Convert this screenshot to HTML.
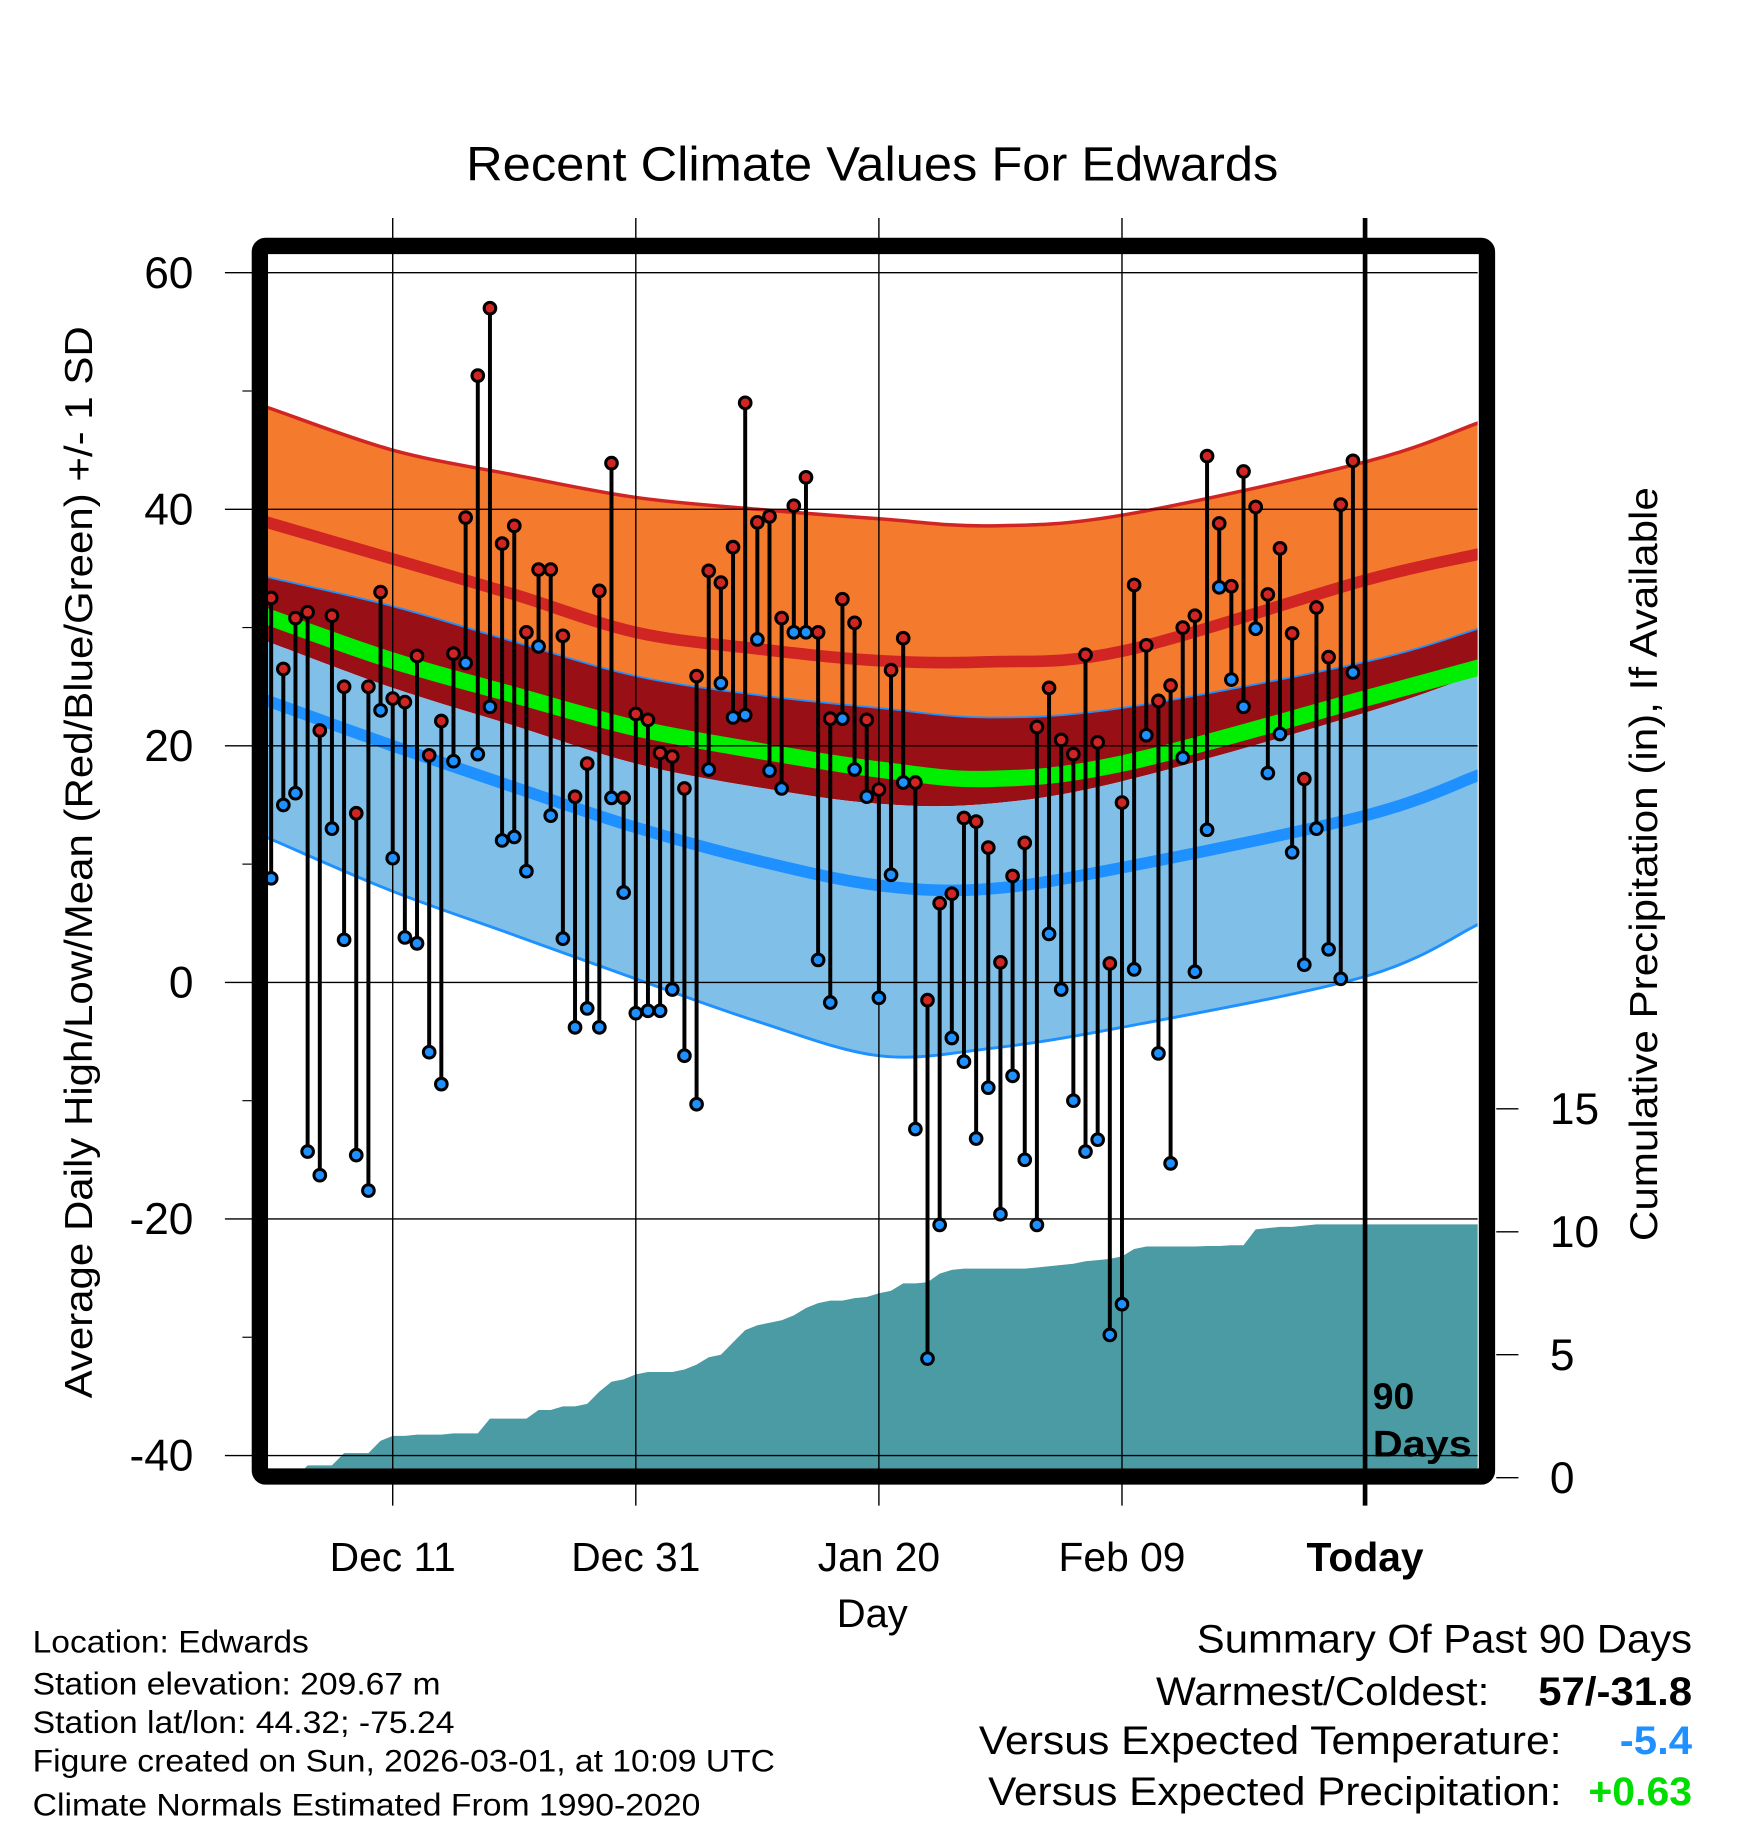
<!DOCTYPE html>
<html><head><meta charset="utf-8"><title>Recent Climate Values For Edwards</title>
<style>html,body{margin:0;padding:0;background:#fff}svg{display:block}text{font-family:"Liberation Sans",Arial,sans-serif}</style>
</head><body>
<svg id="chart" xmlns="http://www.w3.org/2000/svg" width="1748" height="1828" viewBox="0 0 1500 1568.6">
<defs><clipPath id="plotclip"><rect x="230" y="216" width="1038" height="1044"/></clipPath></defs>
<text x="400" y="155" font-size="41" textLength="697" lengthAdjust="spacingAndGlyphs">Recent Climate Values For Edwards</text>
<g id="fills" clip-path="url(#plotclip)"></g>
<g id="axes"></g>
<text transform="translate(79,1200) rotate(-90)" font-size="33" textLength="920" lengthAdjust="spacingAndGlyphs">Average Daily High/Low/Mean (Red/Blue/Green) +/- 1 SD</text>
<text transform="translate(1422,1065) rotate(-90)" font-size="33" textLength="647" lengthAdjust="spacingAndGlyphs">Cumulative Precipitation (in), If Available</text>
<text x="718" y="1396" font-size="34" textLength="61" lengthAdjust="spacingAndGlyphs">Day</text>
<g font-size="27">
<text x="28" y="1418" textLength="237" lengthAdjust="spacingAndGlyphs">Location: Edwards</text>
<text x="28" y="1454" textLength="350" lengthAdjust="spacingAndGlyphs">Station elevation: 209.67 m</text>
<text x="28" y="1487" textLength="362" lengthAdjust="spacingAndGlyphs">Station lat/lon: 44.32; -75.24</text>
<text x="28" y="1520" textLength="637" lengthAdjust="spacingAndGlyphs">Figure created on Sun, 2026-03-01, at 10:09 UTC</text>
<text x="28" y="1558" textLength="573" lengthAdjust="spacingAndGlyphs">Climate Normals Estimated From 1990-2020</text>
</g>
<g font-size="34">
<text x="1027" y="1418" textLength="425" lengthAdjust="spacingAndGlyphs">Summary Of Past 90 Days</text>
<text x="992" y="1463" textLength="286" lengthAdjust="spacingAndGlyphs">Warmest/Coldest:</text>
<text x="1320" y="1463" font-weight="bold" textLength="132" lengthAdjust="spacingAndGlyphs">57/-31.8</text>
<text x="840" y="1505" textLength="500" lengthAdjust="spacingAndGlyphs">Versus Expected Temperature:</text>
<text x="1390" y="1505" font-weight="bold" fill="#1e90ff" textLength="62" lengthAdjust="spacingAndGlyphs">-5.4</text>
<text x="848" y="1549" textLength="492" lengthAdjust="spacingAndGlyphs">Versus Expected Precipitation:</text>
<text x="1363" y="1549" font-weight="bold" fill="#00dd00" textLength="89" lengthAdjust="spacingAndGlyphs">+0.63</text>
</g>
</svg>
<script>
// ---- data ----
const normDays = [0, 10, 20, 30, 40, 50, 59, 70, 90, 99.3];
const normTop = [48.5, 45, 42.9, 41, 40, 39.2, 38.6, 39.5, 44, 47.3];
const normMeanHigh = [38.8, 35.8, 32.8, 29.6, 28.2, 27.2, 27.1, 28.0, 34, 36.2];
const normHighMinusSD = [34.2, 31.8, 28.8, 25.9, 24.3, 23.2, 22.4, 23.2, 27.1, 29.9];
const normMean = [30.8, 27.2, 24.3, 21.5, 19.6, 18, 17.2, 18.5, 24, 26.6];
const normLowPlusSD = [28.7, 24.9, 21.7, 18.5, 16.5, 15.1, 15.1, 17, 22.8, 26.1];
const normMeanLow = [23.7, 20, 16.5, 13.1, 10.3, 8.2, 7.9, 9.7, 14.1, 17.5];
const normBottom = [12.1, 7.7, 4, 0.3, -3.3, -6.2, -5.6, -3.8, 0.5, 4.9];
const highs = [32.5,26.5,30.8,31.3,21.3,31.0,25,14.3,25,33,24,23.7,27.6,19.2,22.1,27.8,39.3,51.3,57,37.1,38.6,29.6,34.9,34.9,29.3,15.7,18.5,33.1,43.9,15.6,22.7,22.2,19.4,19.1,16.4,25.9,34.8,33.8,36.8,49,38.9,39.4,30.8,40.3,42.7,29.6,22.3,32.4,30.4,22.2,16.3,26.4,29.1,16.9,-1.5,6.7,7.5,13.9,13.6,11.4,1.7,9,11.8,21.6,24.9,20.5,19.3,27.7,20.3,1.6,15.2,33.6,28.5,23.8,25.1,30,31,44.5,38.8,33.5,43.2,40.2,32.8,36.7,29.5,17.2,31.7,27.5,40.4,44.1];
const lows = [8.8,15,16,-14.3,-16.3,13,3.6,-14.6,-17.6,23,10.5,3.8,3.3,-5.9,-8.6,18.7,27,19.3,23.3,12,12.3,9.4,28.4,14.1,3.7,-3.8,-2.2,-3.8,15.6,7.6,-2.6,-2.4,-2.4,-0.6,-6.2,-10.3,18,25.3,22.4,22.6,29,17.9,16.4,29.6,29.6,1.9,-1.7,22.3,18,15.7,-1.3,9.1,16.9,-12.4,-31.8,-20.5,-4.7,-6.7,-13.2,-8.9,-19.6,-7.9,-15,-20.5,4.1,-0.6,-10,-14.3,-13.3,-29.8,-27.2,1.1,20.9,-6,-15.3,19,0.9,12.9,33.4,25.6,23.3,29.9,17.7,21,11,1.5,13,2.8,0.3,26.2];
const precip = [0,0,0,0.5,0.5,0.5,1.0,1.0,1.0,1.5,1.7,1.7,1.75,1.75,1.75,1.8,1.8,1.8,2.4,2.4,2.4,2.4,2.75,2.75,2.9,2.9,3.0,3.5,3.9,4.0,4.2,4.3,4.3,4.3,4.4,4.6,4.9,5.0,5.5,6.0,6.2,6.3,6.4,6.6,6.9,7.1,7.2,7.2,7.3,7.35,7.5,7.6,7.9,7.9,7.95,8.3,8.45,8.5,8.5,8.5,8.5,8.5,8.5,8.55,8.6,8.65,8.7,8.8,8.85,8.9,9.0,9.3,9.4,9.4,9.4,9.4,9.4,9.42,9.42,9.45,9.45,10.1,10.15,10.2,10.2,10.25,10.3,10.3,10.3,10.3];
const yTicks = [60, 40, 20, 0, -20, -40];
const y2Ticks = [0, 5, 10, 15];
const xTickDays = [10, 30, 50, 70, 90];
const xTickLabels = ["Dec 11", "Dec 31", "Jan 20", "Feb 09", "Today"];

// ---- scales ----
const X = d => 232.7 + d * 10.43;
const Y = t => 843 - t * 10.15;
const Y2 = p => 1268 - p * 21.1;
const NS = "http://www.w3.org/2000/svg";
function mk(tag, attrs, parent) {
  const e = document.createElementNS(NS, tag);
  for (const k in attrs) e.setAttribute(k, attrs[k]);
  parent.appendChild(e);
  return e;
}
function smoothPts(days, vals) {
  const pts = days.map((d, i) => [X(d), Y(vals[i])]);
  pts.unshift([X(-2), pts[0][1] - (pts[1][1] - pts[0][1]) * 0.2]);
  pts.push([X(101), pts[pts.length - 1][1] + (pts[pts.length - 1][1] - pts[pts.length - 2][1]) * 0.2]);
  return pts;
}
function spline(pts) {
  let s = "";
  for (let i = 0; i < pts.length - 1; i++) {
    const p0 = pts[Math.max(0, i - 1)], p1 = pts[i], p2 = pts[i + 1], p3 = pts[Math.min(pts.length - 1, i + 2)];
    const c1 = [p1[0] + (p2[0] - p0[0]) / 6, p1[1] + (p2[1] - p0[1]) / 6];
    const c2 = [p2[0] - (p3[0] - p1[0]) / 6, p2[1] - (p3[1] - p1[1]) / 6];
    s += (i === 0 ? "M" + p1[0] + "," + p1[1] : "") + " C" + c1 + " " + c2 + " " + p2;
  }
  return s;
}
function bandPath(a, b) {
  const pa = smoothPts(normDays, a), pb = smoothPts(normDays, b).reverse();
  return spline(pa) + " L" + pb[0] + spline(pb).replace(/^M[^ ]+/, "") + " Z";
}
const fills = document.getElementById("fills");
const axes = document.getElementById("axes");

const orange = mk("path", {d: bandPath(normTop, normHighMinusSD), fill: "#f47a2d"}, fills);


const darkred = mk("path", {d: bandPath(normHighMinusSD, normLowPlusSD), fill: "#981016"}, fills);


const lblue = mk("path", {d: bandPath(normLowPlusSD, normBottom), fill: "#80c0e8"}, fills);


const topLine = mk("path", {d: spline(smoothPts(normDays, normTop)), fill: "none", stroke: "#d02522", "stroke-width": 3}, fills);


const hiLine = mk("path", {d: spline(smoothPts(normDays, normMeanHigh)), fill: "none", stroke: "#d02522", "stroke-width": 10}, fills);


const hsdLine = mk("path", {d: spline(smoothPts(normDays, normHighMinusSD)), fill: "none", stroke: "#1e90ff", "stroke-width": 1.5}, fills);


const meanLine = mk("path", {d: spline(smoothPts(normDays, normMean)), fill: "none", stroke: "#00ee00", "stroke-width": 14}, fills);


const loLine = mk("path", {d: spline(smoothPts(normDays, normMeanLow)), fill: "none", stroke: "#1e90ff", "stroke-width": 10}, fills);


const botLine = mk("path", {d: spline(smoothPts(normDays, normBottom)), fill: "none", stroke: "#1e90ff", "stroke-width": 2.5}, fills);



// precipitation area (linear between days)
let pd = "M" + X(-0.5) + "," + Y2(0) + " L" + X(-0.5) + "," + Y2(precip[0]);
precip.forEach((p, i) => { pd += " L" + X(i) + "," + Y2(p); });
pd += " L1270," + Y2(precip[precip.length - 1]) + " L1270," + Y2(0) + " Z";
const pArea = mk("path", {d: pd, fill: "#4a9ba4"}, fills);



// gridlines
yTicks.forEach(t => {
  const g = mk("line", {x1: 193, x2: 1268, y1: Y(t), y2: Y(t), stroke: "#000", "stroke-width": 1.2}, axes);
  
  
  const lb = mk("text", {x: 166, y: Y(t) + 13, "font-size": 38, "text-anchor": "end"}, axes);
  lb.textContent = t;
  
  
});
[50, 30, 10, -10, -30].forEach(t => {
  const m = mk("line", {x1: 208, x2: 216, y1: Y(t), y2: Y(t), stroke: "#000", "stroke-width": 1}, axes);
  
  
});
y2Ticks.forEach(p => {
  const tk = mk("line", {x1: 1284, x2: 1303, y1: Y2(p), y2: Y2(p), stroke: "#000", "stroke-width": 1.2}, axes);
  
  
  const lb = mk("text", {x: 1330, y: Y2(p) + 13, "font-size": 38}, axes);
  lb.textContent = p;
  
  
});
xTickDays.forEach((d, i) => {
  const today = i === xTickDays.length - 1;
  const g = mk("line", {x1: X(d), x2: X(d), y1: 187, y2: 1292, stroke: "#000", "stroke-width": today ? 4 : 1.2}, axes);
  
  
  const lb = mk("text", {x: X(d), y: 1348, "font-size": 35, "text-anchor": "middle"}, axes);
  if (today) lb.setAttribute("font-weight", "bold");
  lb.textContent = xTickLabels[i];
  
  
});

// temperature stems and points
const marks = mk("g", {"clip-path": "url(#plotclip)"}, axes);
highs.forEach((h, i) => {
  const s = mk("line", {x1: X(i), x2: X(i), y1: Y(h), y2: Y(lows[i]), stroke: "#000", "stroke-width": 3.4}, marks);
  
  
});
highs.forEach((h, i) => {
  const lo = mk("circle", {cx: X(i), cy: Y(lows[i]), r: 5, fill: "#1e90ff", stroke: "#000", "stroke-width": 2.6}, marks);
  
  
  const hi = mk("circle", {cx: X(i), cy: Y(h), r: 5, fill: "#d02522", stroke: "#000", "stroke-width": 2.6}, marks);
  
  
});

// 90 days label
const t1 = mk("text", {x: 1178, y: 1209, "font-size": 32, "font-weight": "bold"}, axes);
t1.textContent = "90";


const t2 = mk("text", {x: 1178, y: 1250, "font-size": 32, "font-weight": "bold", textLength: 85, lengthAdjust: "spacingAndGlyphs"}, axes);
t2.textContent = "Days";



// frame
const fr = mk("rect", {x: 223, y: 211, width: 1053, height: 1056, rx: 5, fill: "none", stroke: "#000", "stroke-width": 14}, axes);


</script>
</body></html>
